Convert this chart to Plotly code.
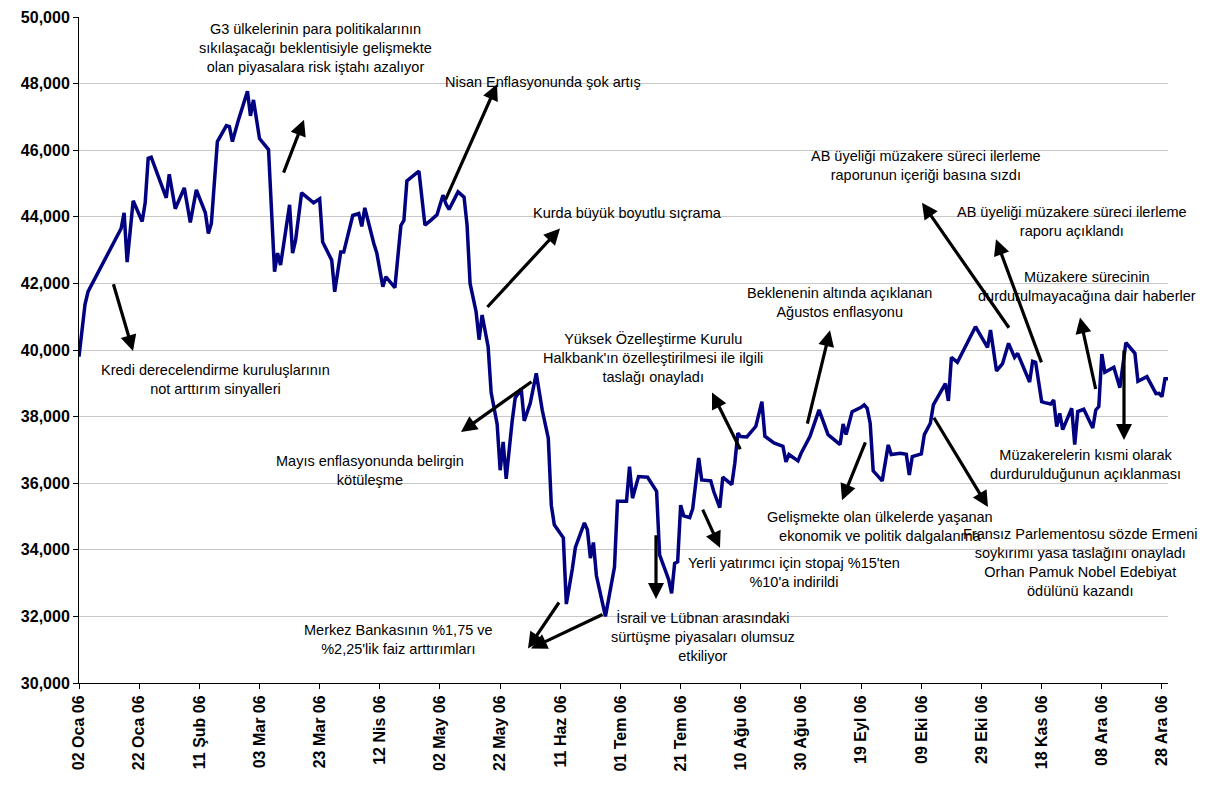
import plotly.graph_objects as go

dates = [
    "2006-01-02", "2006-01-04", "2006-01-05", "2006-01-16", "2006-01-17", "2006-01-18", "2006-01-20",
    "2006-01-23", "2006-01-24", "2006-01-25", "2006-01-26", "2006-01-28", "2006-01-29", "2006-01-31",
    "2006-02-01", "2006-02-03", "2006-02-06", "2006-02-08", "2006-02-10", "2006-02-13", "2006-02-14",
    "2006-02-15", "2006-02-17", "2006-02-20", "2006-02-21", "2006-02-22", "2006-02-24", "2006-02-27",
    "2006-02-28", "2006-03-01", "2006-03-03", "2006-03-06", "2006-03-08", "2006-03-09", "2006-03-10",
    "2006-03-13", "2006-03-14", "2006-03-15", "2006-03-17", "2006-03-21", "2006-03-23", "2006-03-24",
    "2006-03-27", "2006-03-28", "2006-03-30", "2006-03-31", "2006-04-03", "2006-04-05", "2006-04-06",
    "2006-04-07", "2006-04-10", "2006-04-11", "2006-04-13", "2006-04-14", "2006-04-17", "2006-04-19",
    "2006-04-20", "2006-04-21", "2006-04-25", "2006-04-27", "2006-04-29", "2006-05-01", "2006-05-03",
    "2006-05-04", "2006-05-05", "2006-05-08", "2006-05-10", "2006-05-11", "2006-05-12", "2006-05-14",
    "2006-05-15", "2006-05-16", "2006-05-18", "2006-05-19", "2006-05-21", "2006-05-22", "2006-05-23",
    "2006-05-24", "2006-05-26", "2006-05-27", "2006-05-29", "2006-05-30", "2006-06-01", "2006-06-03",
    "2006-06-05", "2006-06-07", "2006-06-08", "2006-06-09", "2006-06-12", "2006-06-13", "2006-06-15",
    "2006-06-16", "2006-06-19", "2006-06-20", "2006-06-21", "2006-06-22", "2006-06-23", "2006-06-26",
    "2006-06-29", "2006-06-30", "2006-07-03", "2006-07-04", "2006-07-05", "2006-07-07", "2006-07-10",
    "2006-07-12", "2006-07-13", "2006-07-14", "2006-07-17", "2006-07-18", "2006-07-19", "2006-07-20",
    "2006-07-21", "2006-07-22", "2006-07-24", "2006-07-25", "2006-07-27", "2006-07-28", "2006-07-31",
    "2006-08-01", "2006-08-03", "2006-08-04", "2006-08-07", "2006-08-08", "2006-08-09", "2006-08-10",
    "2006-08-12", "2006-08-15", "2006-08-17", "2006-08-18", "2006-08-21", "2006-08-24", "2006-08-25",
    "2006-08-26", "2006-08-29", "2006-08-30", "2006-09-01", "2006-09-02", "2006-09-05", "2006-09-08",
    "2006-09-12", "2006-09-13", "2006-09-14", "2006-09-16", "2006-09-19", "2006-09-20", "2006-09-21",
    "2006-09-22", "2006-09-23", "2006-09-26", "2006-09-28", "2006-09-29", "2006-10-02", "2006-10-04",
    "2006-10-05", "2006-10-06", "2006-10-09", "2006-10-10", "2006-10-12", "2006-10-13", "2006-10-17",
    "2006-10-18", "2006-10-19", "2006-10-21", "2006-10-27", "2006-10-31", "2006-11-01", "2006-11-03",
    "2006-11-05", "2006-11-07", "2006-11-09", "2006-11-10", "2006-11-14", "2006-11-15", "2006-11-16",
    "2006-11-18", "2006-11-19", "2006-11-21", "2006-11-22", "2006-11-23", "2006-11-24", "2006-11-25",
    "2006-11-28", "2006-11-29", "2006-11-30", "2006-12-02", "2006-12-05", "2006-12-06", "2006-12-07",
    "2006-12-08", "2006-12-09", "2006-12-12", "2006-12-14", "2006-12-16", "2006-12-19", "2006-12-20",
    "2006-12-23", "2006-12-26", "2006-12-27", "2006-12-28", "2006-12-29", "2006-12-30",
]

values = [
    39800, 41370, 41750, 43650, 44120, 42640, 44480,
    43860, 44420, 45760, 45790, 45310, 45080, 44570,
    45280, 44240, 44870, 43830, 44810, 44120, 43500,
    43800, 46260, 46740, 46710, 46260, 46910, 47770,
    47030, 47510, 46350, 46020, 42350, 42910, 42550,
    44360, 42910, 43300, 44720, 44420, 44540, 43240,
    42700, 41750, 42940, 42940, 44040, 44100, 43710,
    44270, 43200, 42910, 41900, 42200, 41870, 43740,
    43890, 45080, 45370, 43750, 43900, 44060, 44650,
    44380, 44220, 44750, 44590, 43750, 42000, 41150,
    40310, 41050, 40100, 38720, 37770, 36390, 37240,
    36130, 37870, 38560, 38830, 37870, 38400, 39300,
    38190, 37350, 35340, 34750, 34360, 32370, 33430,
    34070, 34810, 34600, 33750, 34220, 33220, 32000,
    33480, 35460, 35460, 36500, 35550, 36200, 36180,
    35920, 35760, 33850, 33110, 32690, 33590, 33640,
    35340, 35020, 34970, 35230, 36760, 36100, 36070,
    35750, 35270, 36180, 35960, 36600, 37500, 37400,
    37390, 37710, 38450, 37410, 37210, 37110, 36640,
    36860, 36670, 36890, 37260, 37410, 38200, 37460,
    37160, 37780, 37460, 38150, 38280, 38350, 38250,
    37800, 36370, 36070, 37150, 36860, 36900, 36870,
    36250, 36800, 36880, 37460, 37800, 38350, 38990,
    38470, 39780, 39630, 40700, 40080, 40600, 39370,
    39590, 40200, 39780, 39900, 39040, 39660, 39630,
    38450, 38420, 38380, 38500, 37700, 38100, 37610,
    38250, 37160, 38150, 38220, 37660, 38200, 38300,
    39880, 39330, 39480, 38870, 40220, 39900, 39060,
    39200, 38690, 38700, 38600, 39140, 39140,
]

tick_dates = [
    "2006-01-02", "2006-01-22", "2006-02-11", "2006-03-03", "2006-03-23", "2006-04-12", "2006-05-02",
    "2006-05-22", "2006-06-11", "2006-07-01", "2006-07-21", "2006-08-10", "2006-08-30", "2006-09-19",
    "2006-10-09", "2006-10-29", "2006-11-18", "2006-12-08", "2006-12-28",
]
tick_labels = [
    "02 Oca 06", "22 Oca 06", "11 Şub 06", "03 Mar 06", "23 Mar 06", "12 Nis 06", "02 May 06",
    "22 May 06", "11 Haz 06", "01 Tem 06", "21 Tem 06", "10 Ağu 06", "30 Ağu 06", "19 Eyl 06",
    "09 Eki 06", "29 Eki 06", "18 Kas 06", "08 Ara 06", "28 Ara 06",
]

y_ticks = [30000, 32000, 34000, 36000, 38000, 40000, 42000, 44000, 46000, 48000, 50000]

# Annotation texts (center position in pixels)
notes = [
    ("G3 ülkelerinin para politikalarının<br>sıkılaşacağı beklentisiyle gelişmekte<br>olan piyasalara risk iştahı azalıyor", 315, 40),
    ("Nisan Enflasyonunda şok artış", 543, 75),
    ("Kredi derecelendirme kuruluşlarının<br>not arttırım sinyalleri", 215, 376),
    ("Kurda büyük boyutlu sıçrama", 627, 207),
    ("Yüksek Özelleştirme Kurulu<br>Halkbank'ın özelleştirilmesi ile ilgili<br>taslağı onayladı", 653, 354),
    ("Mayıs enflasyonunda belirgin<br>kötüleşme", 370, 468),
    ("Merkez Bankasının %1,75 ve<br>%2,25'lik faiz arttırımları", 398, 639),
    ("İsrail ve Lübnan arasındaki<br>sürtüşme piyasaları olumsuz<br>etkiliyor", 703, 636),
    ("Yerli yatırımcı için stopaj %15'ten<br>%10'a indirildi", 794, 571),
    ("Beklenenin altında açıklanan<br>Ağustos enflasyonu", 839, 298),
    ("Gelişmekte olan ülkelerde yaşanan<br>ekonomik ve politik dalgalanma", 880, 525),
    ("Fransız Parlementosu sözde Ermeni<br>soykırımı yasa taslağını onayladı<br>Orhan Pamuk Nobel Edebiyat<br>ödülünü kazandı", 1080, 561),
    ("AB üyeliği müzakere süreci ilerleme<br>raporunun içeriği basına sızdı", 926, 159),
    ("AB üyeliği müzakere süreci ilerleme<br>raporu açıklandı", 1072, 216),
    ("Müzakere sürecinin<br>durdurulmayacağına dair haberler", 1087, 282),
    ("Müzakerelerin kısmi olarak<br>durdurulduğunun açıklanması", 1085, 462),
]

# Arrows: (tail_x, tail_y, head_x, head_y) in pixels
arrows = [
    (283, 168, 304, 113),
    (445, 195, 497, 77),
    (113, 278, 133, 347),
    (486, 304, 560, 223),
    (741, 448, 712, 389),
    (533, 377, 461, 429),
    (560, 600, 528, 648),
    (604, 613, 531, 648),
    (656, 532, 656, 598),
    (702, 506, 720, 546),
    (807, 422, 830, 326),
    (866, 438, 842, 498),
    (933, 413, 988, 505),
    (1010, 325, 922, 197),
    (1042, 360, 996, 234),
    (1096, 387, 1080, 313),
    (1124, 345, 1124, 437),
]

W, H = 1211, 787
L, R, T, B = 79, 1168, 9, 683


def dx(px):
    return (px - L) / (R - L)


def dy(py):
    return (B - py) / (B - T)


FONT = "Arial, Liberation Sans, sans-serif"

fig = go.Figure()
fig.add_trace(go.Scatter(
    x=dates, y=values, mode="lines",
    line=dict(color="#000080", width=3.5),
    hoverinfo="x+y", showlegend=False,
))

annotations = []
for text, cx, cy in notes:
    annotations.append(dict(
        text=text, x=dx(cx), y=dy(cy), xref="x domain", yref="y domain",
        showarrow=False, xanchor="center", yanchor="middle", align="center",
        font=dict(family=FONT, size=14.5, color="black"),
    ))
for tx, ty, hx, hy in arrows:
    annotations.append(dict(
        text="", x=dx(hx), y=dy(hy), ax=dx(tx), ay=dy(ty),
        xref="x domain", yref="y domain", axref="x domain", ayref="y domain",
        showarrow=True, arrowhead=2, arrowsize=1, arrowwidth=3.2,
        arrowcolor="black", standoff=0, startstandoff=0,
    ))

fig.update_layout(
    width=W, height=H,
    margin=dict(l=L, r=W - R, t=T, b=H - B),
    paper_bgcolor="white", plot_bgcolor="white",
    font=dict(family=FONT, color="black"),
    annotations=annotations,
    xaxis=dict(
        type="date", range=["2006-01-02", "2006-12-30"],
        tickmode="array", tickvals=tick_dates, ticktext=tick_labels,
        tickangle=-90, tickfont=dict(family=FONT, size=16, color="black", weight="bold"),
        showgrid=False, showline=True, linecolor="black", linewidth=1,
        ticks="outside", ticklen=5, tickcolor="black", zeroline=False,
    ),
    yaxis=dict(
        range=[30000, 50000], tickmode="array", tickvals=y_ticks,
        tickformat=",", tickfont=dict(family=FONT, size=16, color="black", weight="bold"),
        showgrid=True, gridcolor="#c8c8c8", gridwidth=1,
        showline=True, linecolor="black", linewidth=1,
        ticks="outside", ticklen=5, tickcolor="black", zeroline=False,
    ),
)

fig.write_html("out.html")
